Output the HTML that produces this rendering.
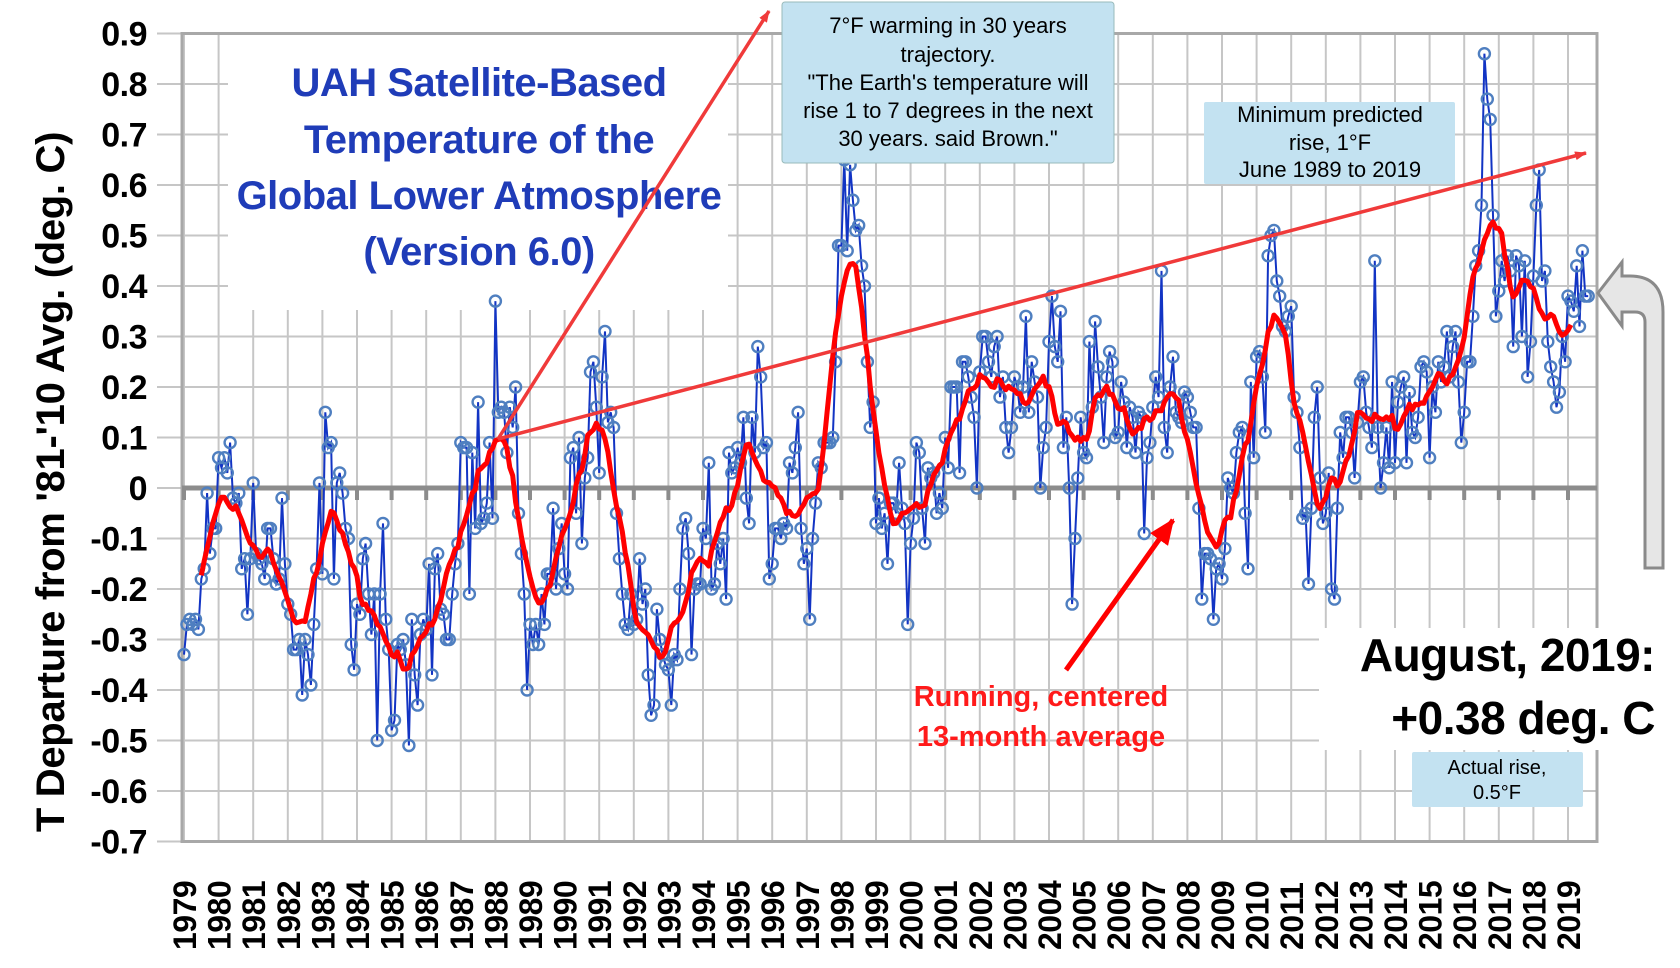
<!DOCTYPE html>
<html><head><meta charset="utf-8">
<style>
html,body{margin:0;padding:0;background:#fff;}
body{width:1680px;height:968px;overflow:hidden;position:relative;font-family:"Liberation Sans",sans-serif;}
svg{position:absolute;left:0;top:0;}
</style></head>
<body>
<svg id="chart" width="1680" height="968" viewBox="0 0 1680 968" xmlns="http://www.w3.org/2000/svg">
<defs>
<marker id="ah" markerWidth="12" markerHeight="9" refX="11" refY="4.5" orient="auto" markerUnits="userSpaceOnUse"><path d="M0,0 L12,4.5 L0,9 Z" fill="#f03a3a"/></marker>
<marker id="ah2" markerWidth="26" markerHeight="22" refX="24" refY="11" orient="auto" markerUnits="userSpaceOnUse"><path d="M0,0 L26,11 L0,22 Z" fill="#ff0000"/></marker>
</defs>
<g id="grid"></g>
<rect x="228" y="35" width="500" height="275" fill="#fff"/>
<g id="axes"></g>
<g id="series"></g>
<g id="avg"></g>
<g font-family="'Liberation Sans',sans-serif" font-weight="bold" font-size="40" fill="#1f3cb8" text-anchor="middle" letter-spacing="-0.5">
<text x="479" y="96">UAH Satellite-Based</text>
<text x="479" y="153">Temperature of the</text>
<text x="479" y="209">Global Lower Atmosphere</text>
<text x="479" y="265">(Version 6.0)</text>
</g>
<line x1="498" y1="439" x2="769" y2="11" stroke="#f03a3a" stroke-width="3.5" marker-end="url(#ah)"/>
<line x1="498" y1="439" x2="1586" y2="153" stroke="#f03a3a" stroke-width="3.5" marker-end="url(#ah)"/>
<g>
<rect x="782" y="2" width="332" height="161" rx="3" fill="#c3e2f1" stroke="#9bb" stroke-width="1"/>
<g font-family="'Liberation Sans',sans-serif" font-size="22" fill="#000" text-anchor="middle">
<text x="948" y="33">7°F warming in 30 years</text>
<text x="948" y="62">trajectory.</text>
<text x="948" y="90">"The Earth's temperature will</text>
<text x="948" y="118">rise 1 to 7 degrees in the next</text>
<text x="948" y="146">30 years. said Brown."</text>
</g></g>
<g>
<rect x="1204" y="102" width="251" height="82" rx="2" fill="#c3e2f1"/>
<g font-family="'Liberation Sans',sans-serif" font-size="22" fill="#000" text-anchor="middle">
<text x="1330" y="122">Minimum predicted</text>
<text x="1330" y="150">rise, 1°F</text>
<text x="1330" y="177">June 1989 to 2019</text>
</g></g>
<rect x="1319" y="628" width="358" height="122" fill="#fff"/>
<g font-family="'Liberation Sans',sans-serif" font-weight="bold" font-size="46" fill="#000" text-anchor="end" letter-spacing="-0.5">
<text x="1655" y="671">August, 2019:</text>
<text x="1655" y="734">+0.38 deg. C</text>
</g>
<g>
<rect x="1412" y="752" width="171" height="55" rx="2" fill="#c3e2f1"/>
<g font-family="'Liberation Sans',sans-serif" font-size="20" fill="#000" text-anchor="middle">
<text x="1497" y="774">Actual rise,</text>
<text x="1497" y="799">0.5°F</text>
</g></g>
<line x1="1066" y1="670" x2="1173" y2="520" stroke="#ff0000" stroke-width="5" marker-end="url(#ah2)"/>
<g font-family="'Liberation Sans',sans-serif" font-weight="bold" font-size="29" fill="#ff1a1a" text-anchor="middle">
<text x="1041" y="706">Running, centered</text>
<text x="1041" y="746">13-month average</text>
</g>
<path d="M1645,568 L1645,322 Q1645,312 1635,312 L1622,312 L1622,326 L1598,293 L1622,262 L1622,276 L1630,276 Q1663,276 1663,312 L1663,568 Z" fill="#e6e6e6" stroke="#8a8a8a" stroke-width="3"/>
<text transform="translate(64,482) rotate(-90)" font-family="'Liberation Sans',sans-serif" font-weight="bold" font-size="40" text-anchor="middle" fill="#000" letter-spacing="-0.3">T Departure from '81-'10 Avg. (deg. C)</text>
<g id="ylabels"></g>
<g id="xlabels"></g>
</svg>
<script>
const startYear = 1979;
const yTicks = [0.9,0.8,0.7,0.6,0.5,0.4,0.3,0.2,0.1,0,-0.1,-0.2,-0.3,-0.4,-0.5,-0.6,-0.7];
const yTickLabels = ["0.9","0.8","0.7","0.6","0.5","0.4","0.3","0.2","0.1","0","-0.1","-0.2","-0.3","-0.4","-0.5","-0.6","-0.7"];
const yearLabels = ["1979","1980","1981","1982","1983","1984","1985","1986","1987","1988","1989","1990","1991","1992","1993","1994","1995","1996","1997","1998","1999","2000","2001","2002","2003","2004","2005","2006","2007","2008","2009","2010","2011","2012","2013","2014","2015","2016","2017","2018","2019"];
const anomalies = [
-0.33,-0.27,-0.26,-0.27,-0.26,-0.28,-0.18,-0.16,-0.01,-0.13,-0.08,-0.08,
0.06,0.04,0.06,0.03,0.09,-0.02,-0.03,-0.01,-0.16,-0.14,-0.25,-0.14,
0.01,-0.13,-0.14,-0.15,-0.18,-0.08,-0.08,-0.14,-0.19,-0.18,-0.02,-0.15,
-0.23,-0.25,-0.32,-0.32,-0.30,-0.41,-0.30,-0.33,-0.39,-0.27,-0.16,0.01,
-0.17,0.15,0.08,0.09,-0.18,0.01,0.03,-0.01,-0.08,-0.10,-0.31,-0.36,
-0.23,-0.25,-0.14,-0.11,-0.21,-0.29,-0.21,-0.50,-0.21,-0.07,-0.26,-0.32,
-0.48,-0.46,-0.31,-0.32,-0.30,-0.35,-0.51,-0.26,-0.37,-0.43,-0.29,-0.26,
-0.28,-0.15,-0.37,-0.16,-0.13,-0.24,-0.25,-0.30,-0.30,-0.21,-0.15,-0.11,
0.09,0.08,0.08,-0.21,0.07,-0.08,0.17,-0.07,-0.06,-0.03,0.09,-0.06,
0.37,0.15,0.16,0.15,0.07,0.16,0.12,0.20,-0.05,-0.13,-0.21,-0.40,
-0.27,-0.31,-0.27,-0.31,-0.21,-0.27,-0.17,-0.17,-0.04,-0.20,-0.12,-0.07,
-0.17,-0.20,0.06,0.08,-0.05,0.10,-0.11,0.02,0.06,0.23,0.25,0.16,
0.03,0.22,0.31,0.13,0.15,0.12,-0.05,-0.14,-0.21,-0.27,-0.28,-0.21,
-0.27,-0.26,-0.14,-0.23,-0.20,-0.37,-0.45,-0.43,-0.24,-0.30,-0.33,-0.35,
-0.36,-0.43,-0.33,-0.34,-0.20,-0.08,-0.06,-0.13,-0.33,-0.20,-0.19,-0.19,
-0.08,-0.10,0.05,-0.20,-0.19,-0.11,-0.15,-0.10,-0.22,0.07,0.03,0.04,
0.08,0.05,0.14,-0.02,-0.07,0.14,0.07,0.28,0.22,0.08,0.09,-0.18,
-0.15,-0.08,-0.08,-0.10,-0.07,-0.08,0.05,0.03,0.08,0.15,-0.08,-0.15,
-0.12,-0.26,-0.10,-0.03,0.05,0.04,0.09,0.09,0.09,0.10,0.25,0.48,
0.48,0.65,0.47,0.64,0.57,0.51,0.52,0.44,0.40,0.25,0.12,0.17,
-0.07,-0.02,-0.08,-0.05,-0.15,-0.03,-0.03,-0.05,0.05,-0.04,-0.07,-0.27,
-0.11,-0.06,0.09,0.07,-0.04,-0.11,0.04,0.02,0.03,-0.05,-0.01,-0.04,
0.10,0.04,0.20,0.20,0.20,0.03,0.25,0.25,0.22,0.18,0.14,0.00,
0.23,0.30,0.30,0.25,0.22,0.28,0.30,0.18,0.22,0.12,0.07,0.12,
0.22,0.20,0.15,0.20,0.34,0.15,0.25,0.21,0.18,0.00,0.08,0.12,
0.29,0.38,0.28,0.25,0.35,0.08,0.14,0.00,-0.23,-0.10,0.02,0.14,
0.07,0.06,0.29,0.16,0.33,0.24,0.18,0.09,0.22,0.27,0.25,0.10,
0.11,0.21,0.17,0.08,0.16,0.14,0.07,0.15,0.14,-0.09,0.06,0.09,
0.16,0.22,0.18,0.43,0.12,0.07,0.20,0.26,0.15,0.14,0.13,0.19,
0.18,0.15,0.12,0.12,-0.04,-0.22,-0.13,-0.13,-0.14,-0.26,-0.16,-0.15,
-0.18,-0.12,0.02,0.00,-0.01,0.07,0.11,0.12,-0.05,-0.16,0.21,0.06,
0.26,0.27,0.22,0.11,0.46,0.50,0.51,0.41,0.38,0.32,0.31,0.34,
0.36,0.18,0.15,0.08,-0.06,-0.05,-0.19,-0.04,0.14,0.20,0.02,-0.07,
-0.05,0.03,-0.20,-0.22,-0.04,0.11,0.06,0.14,0.14,0.11,0.02,0.13,
0.21,0.22,0.15,0.12,0.08,0.45,0.12,0.00,0.05,0.12,0.04,0.21,
0.05,0.17,0.20,0.22,0.05,0.19,0.11,0.10,0.14,0.24,0.25,0.23,
0.06,0.20,0.15,0.25,0.21,0.24,0.31,0.22,0.28,0.31,0.21,0.09,
0.15,0.25,0.25,0.34,0.44,0.47,0.56,0.86,0.77,0.73,0.54,0.34,
0.39,0.45,0.41,0.46,0.43,0.28,0.46,0.44,0.30,0.45,0.22,0.29,
0.42,0.56,0.63,0.41,0.43,0.29,0.24,0.21,0.16,0.19,0.30,0.25,
0.38,0.37,0.35,0.44,0.32,0.47,0.38,0.38
];
const NS = "http://www.w3.org/2000/svg";
const X0 = 184, YEARW = 34.6, LEFT = 182, RIGHT = 1597, Y0 = 488, PER = 505;
function xs(t){ return X0 + (t - startYear) * YEARW; }
function ys(v){ return Y0 - v * PER; }
function mk(tag, parent){ const e = document.createElementNS(NS, tag); parent.appendChild(e); return e; }
const grid = document.getElementById('grid');
const axes = document.getElementById('axes');
yTicks.forEach(function(v){
  const l = mk('line', grid);
  
  
  l.setAttribute('x1', LEFT - 25); l.setAttribute('x2', RIGHT);
  l.setAttribute('y1', ys(v)); l.setAttribute('y2', ys(v));
  l.setAttribute('stroke', '#c6c6c6'); l.setAttribute('stroke-width', '2');
});
yearLabels.forEach(function(lbl, i){
  const x = xs(startYear + i);
  const l = mk('line', grid);
  
  
  l.setAttribute('x1', x); l.setAttribute('x2', x);
  l.setAttribute('y1', ys(0.9)); l.setAttribute('y2', ys(-0.7));
  l.setAttribute('stroke', '#c6c6c6'); l.setAttribute('stroke-width', '2');
});
const frame = mk('rect', axes);


frame.setAttribute('x', LEFT); frame.setAttribute('y', ys(0.9));
frame.setAttribute('width', RIGHT - LEFT); frame.setAttribute('height', ys(-0.7) - ys(0.9));
frame.setAttribute('fill', 'none'); frame.setAttribute('stroke', '#a8a8a8'); frame.setAttribute('stroke-width', '3');
const zl = mk('line', axes);


zl.setAttribute('x1', LEFT); zl.setAttribute('x2', RIGHT);
zl.setAttribute('y1', ys(0)); zl.setAttribute('y2', ys(0));
zl.setAttribute('stroke', '#8c8c8c'); zl.setAttribute('stroke-width', '5');
yearLabels.forEach(function(lbl, i){
  const x = xs(startYear + i);
  const t = mk('line', axes);
  
  
  t.setAttribute('x1', x); t.setAttribute('x2', x);
  t.setAttribute('y1', ys(0)); t.setAttribute('y2', ys(0) + 12);
  t.setAttribute('stroke', '#8c8c8c'); t.setAttribute('stroke-width', '4');
});
const ylab = document.getElementById('ylabels');
yTicks.forEach(function(v, i){
  const t = mk('text', ylab);
  
  
  t.setAttribute('x', 147); t.setAttribute('y', ys(v) + 12);
  t.setAttribute('text-anchor', 'end');
  t.setAttribute('font-family', "'Liberation Sans',sans-serif");
  t.setAttribute('font-weight', 'bold'); t.setAttribute('font-size', '34');
  t.setAttribute('letter-spacing', '-0.5');
  t.textContent = yTickLabels[i];
});
const xlab = document.getElementById('xlabels');
yearLabels.forEach(function(lbl, i){
  const x = xs(startYear + i);
  const t = mk('text', xlab);
  
  
  t.setAttribute('transform', 'translate(' + (x + 12) + ',950) rotate(-90)');
  t.setAttribute('font-family', "'Liberation Sans',sans-serif");
  t.setAttribute('font-weight', 'bold'); t.setAttribute('font-size', '32');
  t.setAttribute('letter-spacing', '-0.5');
  t.textContent = lbl;
});
const ser = document.getElementById('series');
const pts = anomalies.map(function(v, i){ return [xs(startYear + i / 12), ys(v)]; });
const pl = mk('polyline', ser);


pl.setAttribute('points', pts.map(function(p){ return p[0].toFixed(1) + ',' + p[1].toFixed(1); }).join(' '));
pl.setAttribute('fill', 'none'); pl.setAttribute('stroke', '#1234c4'); pl.setAttribute('stroke-width', '2');
pts.forEach(function(p){
  const c = mk('circle', ser);
  
  
  c.setAttribute('cx', p[0].toFixed(1)); c.setAttribute('cy', p[1].toFixed(1)); c.setAttribute('r', '5.5');
  c.setAttribute('fill', 'none'); c.setAttribute('stroke', '#4f7fc0'); c.setAttribute('stroke-width', '2.4');
});
const avgPts = [];
for (let i = 6; i < anomalies.length - 6; i++) {
  let s = 0; for (let k = -6; k <= 6; k++) s += anomalies[i + k];
  avgPts.push([xs(startYear + i / 12), ys(s / 13)]);
}
const ap = mk('polyline', document.getElementById('avg'));


ap.setAttribute('points', avgPts.map(function(p){ return p[0].toFixed(1) + ',' + p[1].toFixed(1); }).join(' '));
ap.setAttribute('fill', 'none'); ap.setAttribute('stroke', '#ff0000'); ap.setAttribute('stroke-width', '5');
ap.setAttribute('stroke-linejoin', 'round');
</script>
</body></html>
